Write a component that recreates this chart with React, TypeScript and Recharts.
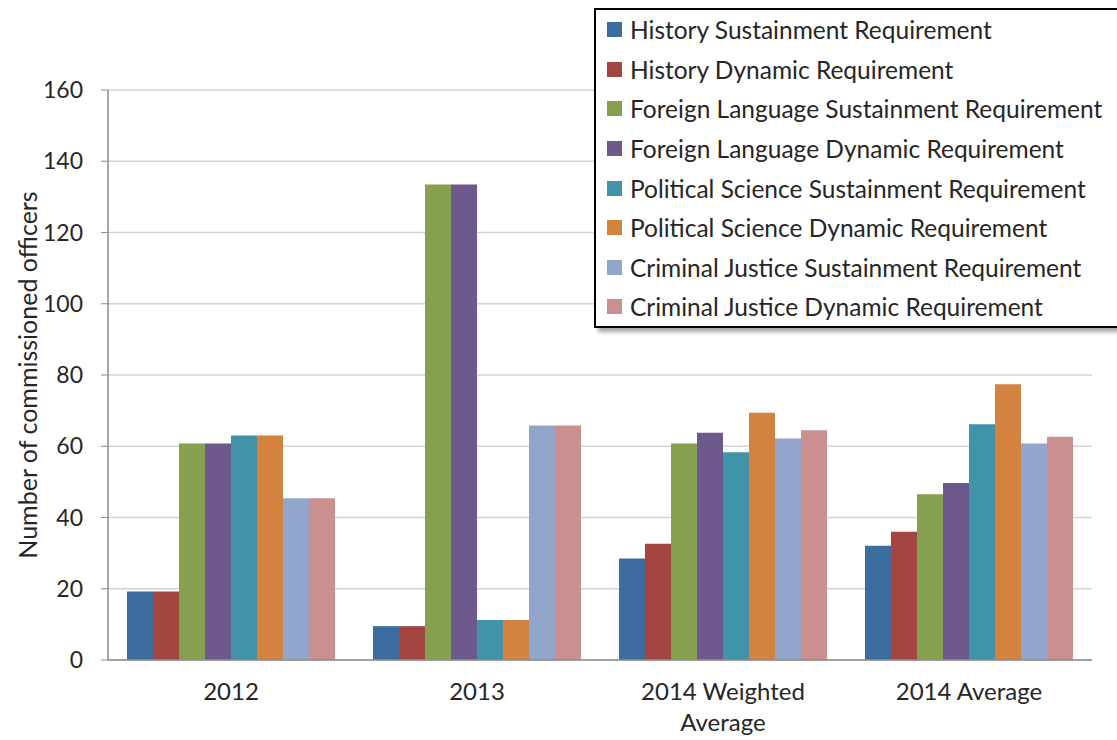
import React from 'react'
import { BarChart, Bar, XAxis, YAxis, CartesianGrid, Legend } from 'recharts'

const categories = ['2012', '2013', '2014 Weighted Average', '2014 Average']

const historySustain = [19.2, 9.5, 28.5, 32.1]
const historyDynamic = [19.2, 9.5, 32.6, 36.0]
const flSustain = [60.8, 133.5, 60.8, 46.5]
const flDynamic = [60.8, 133.5, 63.8, 49.7]
const psSustain = [63.0, 11.2, 58.3, 66.2]
const psDynamic = [63.0, 11.2, 69.4, 77.4]
const cjSustain = [45.4, 65.8, 62.2, 60.8]
const cjDynamic = [45.4, 65.8, 64.5, 62.7]

const yTicks = [0, 20, 40, 60, 80, 100, 120, 140, 160]

const SERIES = [
  { key: 'hs', name: 'History Sustainment Requirement', color: '#3c6d9e', values: historySustain },
  { key: 'hd', name: 'History Dynamic Requirement', color: '#a54542', values: historyDynamic },
  { key: 'fs', name: 'Foreign Language Sustainment Requirement', color: '#87a04f', values: flSustain },
  { key: 'fd', name: 'Foreign Language Dynamic Requirement', color: '#6e598c', values: flDynamic },
  { key: 'ps', name: 'Political Science Sustainment Requirement', color: '#4093a8', values: psSustain },
  { key: 'pd', name: 'Political Science Dynamic Requirement', color: '#d4823f', values: psDynamic },
  { key: 'cs', name: 'Criminal Justice Sustainment Requirement', color: '#92a6cc', values: cjSustain },
  { key: 'cd', name: 'Criminal Justice Dynamic Requirement', color: '#ca8f8f', values: cjDynamic },
]

const data = categories.map((c, i) => {
  const row: Record<string, string | number> = { name: c }
  SERIES.forEach(s => { row[s.key] = s.values[i] })
  return row
})

const FONT = 'Lato, "Open Sans", sans-serif'

// wrap long labels after the second word, like the original
function CategoryTick({ x, y, payload }: any) {
  const words = String(payload.value).split(' ')
  const lines = words.length > 2 ? [words.slice(0, 2).join(' '), words.slice(2).join(' ')] : [payload.value]
  return (
    <text x={x} y={y + 32} textAnchor="middle" fontSize={24} fontFamily={FONT} fill="#262626">
      {lines.map((l, i) => (
        <tspan key={i} x={x} dy={i === 0 ? 0 : 31}>{l}</tspan>
      ))}
    </text>
  )
}

function LegendBox() {
  return (
    <div style={{
      width: 540, height: 320, border: '2px solid #000', background: '#fff',
      boxShadow: '4px 4px 4px rgba(0,0,0,0.35)', boxSizing: 'border-box',
      fontFamily: FONT, fontSize: 24.5, color: '#262626',
    }}>
      {SERIES.map(s => (
        <div key={s.key} style={{ display: 'flex', alignItems: 'center', height: 39.6, whiteSpace: 'nowrap' }}>
          <span style={{ display: 'inline-block', width: 15, height: 15, background: s.color, marginLeft: 11, marginRight: 8, flexShrink: 0 }} />
          {s.name}
        </div>
      ))}
    </div>
  )
}

export default function App() {
  return (
    <div style={{ position: 'absolute', left: 0, top: 0, width: 1117, height: 740, overflow: 'hidden', background: '#fff' }}>
      <BarChart width={1117} height={740} data={data} margin={{ top: 90, right: 25, bottom: 0, left: 0 }}
        barGap={0} barCategoryGap={19}>
        <CartesianGrid vertical={false} stroke="#d4d4d4" strokeWidth={1.5} />
        <XAxis xAxisId="edge" type="number" domain={[0, 4]} ticks={[0, 1, 2, 3, 4]} tick={false}
          axisLine={false} tickLine={{ stroke: '#8c8c8c' }} tickSize={7} height={0} />
        <XAxis dataKey="name" type="category" height={80} tickLine={false} axisLine={{ stroke: '#8c8c8c', strokeWidth: 1.5 }}
          tick={<CategoryTick />} interval={0} />
        <YAxis domain={[0, 160]} ticks={yTicks} width={108} tickSize={7} tickMargin={18}
          axisLine={{ stroke: '#8c8c8c', strokeWidth: 1.5 }} tickLine={{ stroke: '#8c8c8c' }}
          tick={{ fontSize: 23, fontFamily: FONT, fill: '#262626' }}
          label={{
            content: () => (
              <text x={27} y={375} transform="rotate(-90 27 375)" textAnchor="middle" dominantBaseline="central"
                fontSize={25} fontFamily={FONT} fill="#262626">Number of commissioned officers</text>
            ),
          }} />
        <Legend layout="vertical" align="center" verticalAlign="middle" content={<LegendBox />}
          wrapperStyle={{ position: 'absolute', left: 594, top: 8, width: 540, height: 320 }} />
        {SERIES.map(s => (
          <Bar key={s.key} dataKey={s.key} name={s.name} fill={s.color} isAnimationActive={false} />
        ))}
      </BarChart>
    </div>
  )
}
